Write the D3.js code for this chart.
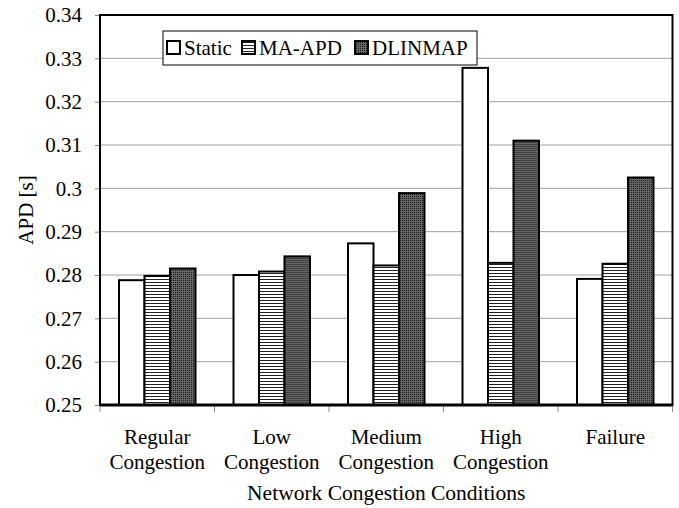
<!DOCTYPE html>
<html><head><meta charset="utf-8">
<script src="https://cdn.jsdelivr.net/npm/d3@7/dist/d3.min.js"></script>
<style>body{margin:0;background:#fff}svg{display:block}svg text{font-family:'Liberation Serif',Times,'Times New Roman',serif !important;fill:#000}</style>
</head><body><svg id="c" width="679" height="508" style="font-family:'Liberation Serif',Times,serif"></svg>
<script>
const categories = [["Regular","Congestion"],["Low","Congestion"],["Medium","Congestion"],["High","Congestion"],["Failure"]];
const seriesNames = ["Static","MA-APD","DLINMAP"];
const staticVals = [0.2788, 0.2800, 0.2873, 0.3278, 0.2791];
const maapdVals  = [0.2798, 0.2808, 0.2822, 0.2828, 0.2826];
const dlinVals   = [0.2815, 0.2843, 0.2989, 0.3110, 0.3025];
const yTicks = [0.25,0.26,0.27,0.28,0.29,0.30,0.31,0.32,0.33,0.34];
const yLabel = "APD [s]";
const xLabel = "Network Congestion Conditions";

const FF = "'Liberation Serif', Times, serif";
const svg = d3.select("#c");
const L=100, R=672.5, T=15, B=405;
const defs = svg.append("defs");
const p1 = defs.append("pattern").attr("id","hl").attr("patternUnits","userSpaceOnUse").attr("width",4).attr("height",3);
p1.append("rect").attr("width",4).attr("height",3).attr("fill","#fff");
p1.append("rect").attr("y",0).attr("width",4).attr("height",1).attr("fill","#222");
const p2 = defs.append("pattern").attr("id","dt").attr("patternUnits","userSpaceOnUse").attr("width",2).attr("height",2);
p2.append("rect").attr("width",2).attr("height",2).attr("fill","#666");
p2.append("rect").attr("width",1).attr("height",1).attr("fill","#1a1a1a");
const fills = ["#fff","url(#hl)","url(#dt)"];

const keys = categories.map(c=>c.join(" "));
const x0 = d3.scaleBand().domain(keys).range([L,R]).paddingInner(0.332).paddingOuter(0.166);
const x1 = d3.scaleBand().domain(seriesNames).range([0,x0.bandwidth()]);
const y = d3.scaleLinear().domain([0.25,0.34]).range([B,T]);

svg.append("g").selectAll("line").data(yTicks.slice(1,-1)).join("line")
  .attr("x1",L).attr("x2",R).attr("y1",d=>y(d)).attr("y2",d=>y(d))
  .attr("stroke","#a0a0a0").attr("stroke-width",1);

const data = keys.map((k,i)=>({k, vals:[staticVals[i],maapdVals[i],dlinVals[i]]}));
const g = svg.append("g").selectAll("g").data(data).join("g").attr("transform",d=>`translate(${x0(d.k)},0)`);
g.selectAll("rect").data(d=>d.vals.map((v,j)=>({v,s:seriesNames[j],j}))).join("rect")
  .attr("x",d=>x1(d.s)).attr("width",x1.bandwidth())
  .attr("y",d=>y(d.v)).attr("height",d=>B-y(d.v))
  .attr("fill",d=>fills[d.j]).attr("stroke","#000").attr("stroke-width",2);

const ya = svg.append("g").attr("transform",`translate(${L},0)`)
  .call(d3.axisLeft(y).tickValues(yTicks).tickFormat(d=>String(+d.toFixed(2))).tickSize(5).tickPadding(13));
ya.attr("font-family",FF).attr("font-size",21);
ya.select(".domain").remove();
ya.selectAll(".tick line").attr("stroke","#888");
ya.selectAll("text").attr("font-size",21).attr("font-family",FF).attr("fill","#000");

const xa = svg.append("g").attr("transform",`translate(0,${B})`);
const edges = keys.map(k=>x0(k)-x0.step()*x0.paddingInner()/2).concat([R]);
edges[0]=L;
xa.selectAll("line").data(edges).join("line").attr("x1",d=>d).attr("x2",d=>d).attr("y1",0).attr("y2",7).attr("stroke","#888");

svg.append("rect").attr("x",L).attr("y",T).attr("width",R-L).attr("height",B-T).attr("fill","none").attr("stroke","#000").attr("stroke-width",2);
svg.append("line").attr("x1",L).attr("x2",R).attr("y1",B).attr("y2",B).attr("stroke","#000").attr("stroke-width",3);

const cl = svg.append("g").selectAll("text").data(categories).join("text")
  .attr("x",(d,i)=>x0(keys[i])+x0.bandwidth()/2).attr("y",444).attr("text-anchor","middle").attr("font-size",21).attr("font-family",FF);
cl.selectAll("tspan").data(d=>d).join("tspan").attr("x",function(){return this.parentNode.getAttribute("x");})
  .attr("dy",(d,i)=>i?25:0).text(d=>d);

svg.append("text").attr("x",(L+R)/2).attr("y",500).attr("text-anchor","middle").attr("font-size",21.5).attr("font-family",FF).text(xLabel);
svg.append("text").attr("transform","translate(33,210) rotate(-90)").attr("text-anchor","middle").attr("font-size",21).attr("font-family",FF).text(yLabel);

const lg = svg.append("g");
lg.append("rect").attr("x",163).attr("y",31).attr("width",314).attr("height",34).attr("fill","#fff").attr("stroke","#000").attr("stroke-width",1);
const lx = [167,242,355];
seriesNames.forEach((s,i)=>{
  lg.append("rect").attr("x",lx[i]).attr("y",41).attr("width",13).attr("height",13).attr("fill",fills[i]).attr("stroke","#000").attr("stroke-width",2);
  lg.append("text").attr("x",lx[i]+17).attr("y",55).attr("font-size",21).attr("font-family",FF).text(s);
});
</script></body></html>
